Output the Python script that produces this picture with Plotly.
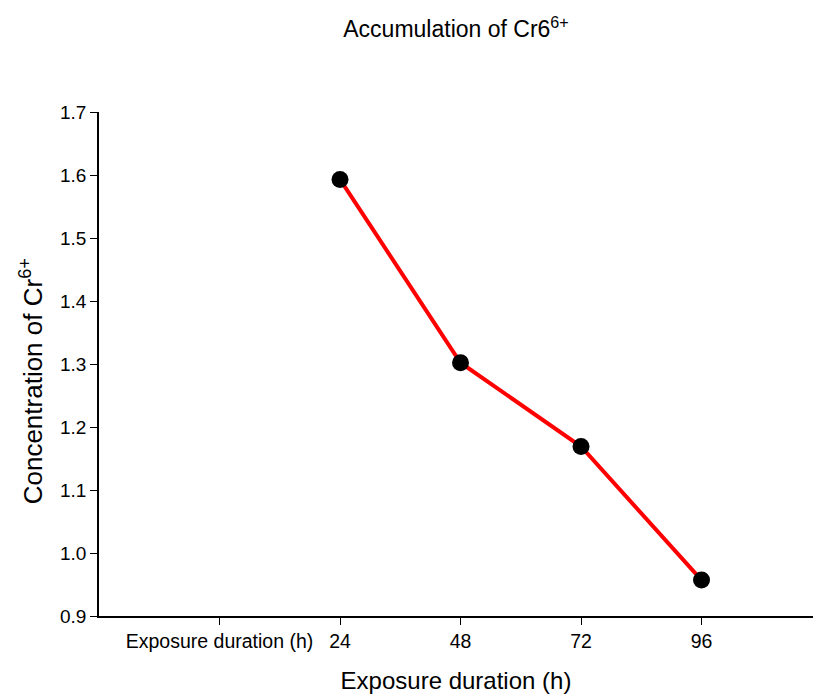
import plotly.graph_objects as go

# Tick categories along the exposure axis (first slot carries the axis caption)
x_categories = ["Exposure duration (h)", "24", "48", "72", "96"]
# Sampled exposure times and measured Cr6+ concentration
exposure_hours = ["24", "48", "72", "96"]
cr_concentration = [1.593, 1.302, 1.169, 0.957]

y_ticks = [0.9, 1.0, 1.1, 1.2, 1.3, 1.4, 1.5, 1.6, 1.7]

FONT = "Liberation Sans, Arial, sans-serif"

fig = go.Figure()
fig.add_trace(go.Scatter(
    x=exposure_hours,
    y=cr_concentration,
    mode="lines+markers",
    line=dict(color="#ff0000", width=4),
    marker=dict(color="black", size=17),
    showlegend=False,
))

fig.update_layout(
    width=813,
    height=700,
    margin=dict(l=99, r=0, t=112, b=84),
    paper_bgcolor="white",
    plot_bgcolor="white",
    font=dict(family=FONT, color="black"),
    title=dict(
        text="Accumulation of Cr6<sup>6+</sup>",
        x=0.5, xref="paper", xanchor="center",
        y=0.958, yref="container", yanchor="middle",
        font=dict(size=23, family=FONT, color="black"),
    ),
)

# Vertical axis caption, placed a little below the axis midpoint
fig.add_annotation(
    text="Concentration of Cr<sup>6+</sup>",
    xref="paper", yref="paper",
    x=-0.095, y=0.466,
    xanchor="center", yanchor="middle",
    textangle=-90, showarrow=False,
    font=dict(size=26, family=FONT, color="black"),
)

fig.update_xaxes(
    type="category",
    categoryorder="array",
    categoryarray=x_categories,
    tickvals=x_categories,
    range=[-1.0, 4.925],
    showline=True, linecolor="black", linewidth=1.5,
    ticks="outside", ticklen=7, tickwidth=1.2, tickcolor="black",
    tickfont=dict(size=19.5, family=FONT, color="black"),
    showgrid=False, zeroline=False,
    title=dict(text="Exposure duration (h)", standoff=21,
               font=dict(size=24, family=FONT, color="black")),
)

fig.update_yaxes(
    range=[0.9, 1.7],
    tickvals=y_ticks,
    tickformat=".1f",
    showline=True, linecolor="black", linewidth=1.5,
    ticks="outside", ticklen=7, tickwidth=1.2, tickcolor="black",
    tickfont=dict(size=19, family=FONT, color="black"),
    showgrid=False, zeroline=False,
)

fig.write_html("out.html")
